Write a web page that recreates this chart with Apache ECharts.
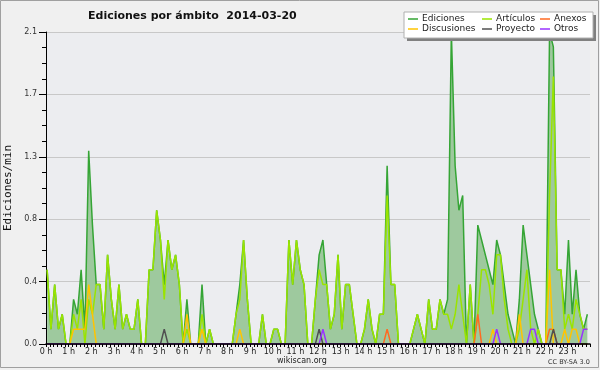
<!DOCTYPE html>
<html><head><meta charset="utf-8">
<script src="https://cdn.jsdelivr.net/npm/echarts@6/dist/echarts.min.js"></script>
<style>html,body{margin:0;padding:0;background:#f0f0f0}#c{width:600px;height:370px}</style>
</head><body><div id="c"></div>
<script>
// 10-minute buckets, edits per minute
const bucketMinutes = 10;
const offsetMinutes = 3;

const ediciones = [
  0.5,0.1,0.4,0.1,0.2,0,0,0.3,0.2,0.5,0.1,1.3,
  0.8,0.4,0.4,0.1,0.6,0.3,0.1,0.4,0.1,0.2,0.1,0.1,
  0.3,0,0,0.5,0.5,0.9,0.7,0.4,0.7,0.5,0.6,0.4,
  0,0.3,0,0,0,0.4,0,0.1,0,0,0,0,
  0,0,0.2,0.4,0.7,0.3,0,0,0,0.2,0,0,
  0.1,0.1,0,0,0.7,0.4,0.7,0.5,0.4,0,0,0.3,
  0.6,0.7,0.4,0.1,0.2,0.6,0.1,0.4,0.4,0.2,0,0,
  0.1,0.3,0.1,0,0.2,0.2,1.2,0.4,0.4,0,0,0,
  0,0.1,0.2,0.1,0,0.3,0.1,0.1,0.3,0.2,0.3,2.1,
  1.2,0.9,1.0,0,0.4,0,0.8,0.7,0.6,0.5,0.4,0.7,
  0.6,0.4,0.2,0.1,0,0.3,0.8,0.6,0.4,0.2,0.1,0,
  0,2.1,2.0,0.5,0.5,0.2,0.7,0.2,0.5,0.2,0.1,0.2
];
const articulos = [
  0.5,0.1,0.4,0.1,0.2,0,0,0.2,0.1,0.3,0,0.3,
  0.2,0.4,0.4,0.1,0.6,0.3,0.1,0.4,0.1,0.2,0.1,0.1,
  0.3,0,0,0.5,0.5,0.9,0.7,0.3,0.7,0.5,0.6,0.4,
  0,0.1,0,0,0,0.2,0,0.1,0,0,0,0,
  0,0,0.2,0.3,0.7,0.3,0,0,0,0.2,0,0,
  0.1,0.1,0,0,0.7,0.4,0.7,0.5,0.4,0,0,0.3,
  0.5,0.4,0.4,0.1,0.2,0.6,0.1,0.4,0.4,0.2,0,0,
  0.1,0.3,0.1,0,0.2,0.2,1.0,0.4,0.4,0,0,0,
  0,0.1,0.2,0.1,0,0.3,0.1,0.1,0.3,0.2,0.2,0.1,
  0.2,0.4,0.2,0,0.4,0,0.2,0.5,0.5,0.4,0.2,0.6,
  0.6,0.3,0.1,0,0,0.1,0.3,0.5,0.1,0,0.1,0,
  0,1.0,1.8,0.5,0.5,0.1,0.2,0.1,0.3,0.2,0.1,0.1
];
const anexos = [
  0,0,0,0,0,0,0,0,0,0,0,0,
  0,0,0,0,0,0,0,0,0,0,0,0,
  0,0,0,0,0,0,0,0,0,0,0,0,
  0,0,0,0,0,0,0,0,0,0,0,0,
  0,0,0,0,0,0,0,0,0,0,0,0,
  0,0,0,0,0,0,0,0,0,0,0,0,
  0,0,0,0,0,0,0,0,0,0,0,0,
  0,0,0,0,0,0,0.1,0,0,0,0,0,
  0,0,0,0,0,0,0,0,0,0,0,0,
  0,0,0,0,0,0,0.2,0,0,0,0,0,
  0,0,0,0,0,0,0,0,0,0,0,0,
  0,0.1,0.1,0,0,0,0,0,0,0,0,0
];
const discusiones = [
  0,0,0,0,0,0,0,0.1,0.1,0.1,0.1,0.4,
  0.2,0,0,0,0,0,0,0,0,0,0,0,
  0,0,0,0,0,0,0,0,0,0,0,0,
  0,0.2,0,0,0,0.1,0,0,0,0,0,0,
  0,0,0,0.1,0,0,0,0,0,0,0,0,
  0,0,0,0,0,0,0,0,0,0,0,0,
  0,0,0,0,0,0,0,0,0,0,0,0,
  0,0,0,0,0,0,0,0,0,0,0,0,
  0,0,0,0,0,0,0,0,0,0,0,0,
  0,0,0,0,0,0,0,0,0,0,0.1,0,
  0,0,0,0,0,0.2,0,0,0,0,0,0,
  0,0.5,0,0,0,0.1,0,0.1,0.1,0,0,0
];
const proyecto = [
  0,0,0,0,0,0,0,0,0,0,0,0,
  0,0,0,0,0,0,0,0,0,0,0,0,
  0,0,0,0,0,0,0,0.1,0,0,0,0,
  0,0,0,0,0,0,0,0,0,0,0,0,
  0,0,0,0,0,0,0,0,0,0,0,0,
  0,0,0,0,0,0,0,0,0,0,0,0,
  0.1,0,0,0,0,0,0,0,0,0,0,0,
  0,0,0,0,0,0,0,0,0,0,0,0,
  0,0,0,0,0,0,0,0,0,0,0,0,
  0,0,0,0,0,0,0,0,0,0,0,0,
  0,0,0,0,0,0,0,0,0,0,0,0,
  0,0,0.1,0,0,0,0,0,0,0,0,0
];
const otros = [
  0,0,0,0,0,0,0,0,0,0,0,0,
  0,0,0,0,0,0,0,0,0,0,0,0,
  0,0,0,0,0,0,0,0,0,0,0,0,
  0,0,0,0,0,0,0,0,0,0,0,0,
  0,0,0,0,0,0,0,0,0,0,0,0,
  0,0,0,0,0,0,0,0,0,0,0,0,
  0,0.1,0,0,0,0,0,0,0,0,0,0,
  0,0,0,0,0,0,0,0,0,0,0,0,
  0,0,0,0,0,0,0,0,0,0,0,0,
  0,0,0,0,0,0,0,0,0,0,0,0.1,
  0,0,0,0,0,0,0,0,0.1,0.1,0,0,
  0,0,0,0,0,0,0,0,0,0,0.1,0.1
];

const FONT = 'DejaVu Sans';
function pts(arr){ return arr.map((v,i)=>[(i*bucketMinutes+offsetMinutes)/60, v]); }
function lineSeries(name, arr, color, z){
  return {name, type:'line', data: pts(arr), showSymbol:false, symbol:'none', z,
    lineStyle:{color, width:1.5}, itemStyle:{color}, animation:false};
}
const legendBase = {orient:'vertical', icon:'rect', itemWidth:10, itemHeight:1.5, itemGap:0,
  textStyle:{fontFamily:FONT, fontSize:9, color:'#222', lineHeight:10, padding:[0,0,0,-1]}, padding:0, z:20};

const chart = echarts.init(document.getElementById('c'), null, {renderer:'canvas'});
chart.setOption({
  animation:false,
  backgroundColor:'#f0f0f0',
  title:{text:'Ediciones por ámbito  2014-03-20', left:83, top:6,
    textStyle:{fontFamily:FONT, fontSize:11, fontWeight:'bold', color:'#111'}},
  grid:{left:46, right:10, top:32, bottom:26, show:true, backgroundColor:'#ecedf0', borderWidth:0,
    outerBoundsMode:'none', containLabel:false},
  legend:[
    Object.assign({}, legendBase, {left:408, top:14, data:['Ediciones','Discusiones']}),
    Object.assign({}, legendBase, {left:482, top:14, data:['Artículos','Proyecto']}),
    Object.assign({}, legendBase, {left:540, top:14, data:['Anexos','Otros']})
  ],
  xAxis:{type:'value', min:0, max:24, interval:1, z:10,
    axisLine:{show:true, onZero:false, lineStyle:{color:'#000', width:1.5}},
    axisTick:{show:true, length:3, lineStyle:{color:'#000'}},
    minorTick:{show:true, splitNumber:6, length:3, lineStyle:{color:'#000'}},
    splitLine:{show:false},
    axisLabel:{fontFamily:FONT, fontSize:8, color:'#222', margin:4,
      formatter:v => v < 24 ? v + ' h' : ''}
  },
  yAxis:{type:'value', min:0, max:2.1, interval:0.42,
    name:'Ediciones/min', nameLocation:'middle', nameGap:27, nameRotate:90,
    nameTextStyle:{fontFamily:'DejaVu Sans Mono', fontSize:11, color:'#111'},
    axisLine:{show:true, lineStyle:{color:'#000', width:1}},
    axisTick:{show:true, length:7, lineStyle:{color:'#000'}},
    minorTick:{show:true, splitNumber:4, length:4, lineStyle:{color:'#000'}},
    splitLine:{show:true, lineStyle:{color:'#c8c8c8', width:1}},
    axisLabel:{fontFamily:FONT, fontSize:8, color:'#333', margin:9,
      formatter:v => v.toFixed(1)}
  },
  graphic:[
    {type:'rect', shape:{x:0.5, y:0.5, width:598, height:367}, style:{fill:null, stroke:'#a0a0a0', lineWidth:1}, z:0, silent:true},
    {type:'rect', shape:{x:407, y:15, width:189, height:26}, style:{fill:'#808080'}, z:15, silent:true},
    {type:'rect', shape:{x:404, y:12, width:189, height:26}, style:{fill:'#ffffff', stroke:'#b0b0b0', lineWidth:1}, z:16, silent:true},
    {type:'text', left:277, top:357, style:{text:'wikiscan.org', font:'8px "DejaVu Sans"', fill:'#222'}, z:20},
    {type:'text', left:548, top:359, style:{text:'CC BY-SA 3.0', font:'6.5px "DejaVu Sans"', fill:'#333'}, z:20}
  ],
  series:[
    Object.assign(lineSeries('Ediciones', ediciones, '#35a535', 2), {areaStyle:{color:'#9ec99e', opacity:1}}),
    lineSeries('Artículos', articulos, '#9ae400', 3),
    lineSeries('Anexos', anexos, '#ff6a22', 4),
    lineSeries('Discusiones', discusiones, '#ffc400', 4),
    lineSeries('Proyecto', proyecto, '#505050', 4),
    lineSeries('Otros', otros, '#9933ff', 4)
  ]
});
</script></body></html>
